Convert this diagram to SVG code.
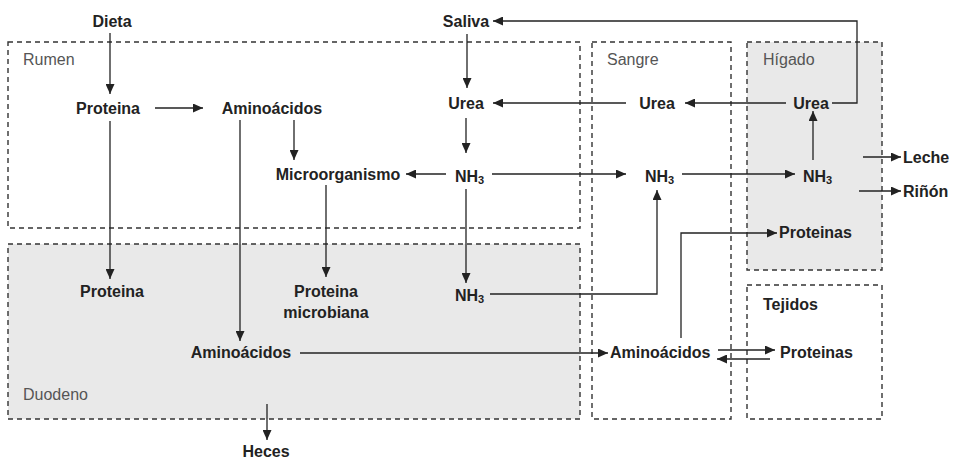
<svg xmlns="http://www.w3.org/2000/svg" width="957" height="464" viewBox="0 0 957 464">
<defs>
<marker id="ah" markerWidth="10" markerHeight="9" refX="10" refY="4.5" orient="auto" markerUnits="userSpaceOnUse">
<path d="M0,0 L10,4.5 L0,9 z" fill="#222"/>
</marker>
<style>
.box{fill:none;stroke:#333;stroke-width:1.4;stroke-dasharray:5 4}
.gray{fill:#e9e9e9}
.t{font-family:"Liberation Sans",Arial,sans-serif;font-size:16px;font-weight:bold;fill:#222}
.lbl{font-family:"Liberation Sans",Arial,sans-serif;font-size:16px;fill:#555}
.c{text-anchor:middle}
.sub{font-size:11px}
.ln{fill:none;stroke:#222;stroke-width:1.3}
.ar{fill:none;stroke:#222;stroke-width:1.3;marker-end:url(#ah)}
</style>
</defs>
<rect width="957" height="464" fill="#fff"/>
<g id="compartments">
<g id="rumen"><rect class="box" x="8" y="42" width="572" height="186"/><text class="lbl" x="23" y="65">Rumen</text></g>
<g id="duodeno"><rect class="box gray" x="8" y="244" width="572" height="175"/><text class="lbl" x="23" y="400">Duodeno</text></g>
<g id="sangre"><rect class="box" x="592" y="42" width="139" height="377"/><text class="lbl" x="607" y="65">Sangre</text></g>
<g id="higado"><rect class="box gray" x="747" y="42" width="135" height="228"/><text class="lbl" x="763" y="65">Hígado</text></g>
<g id="tejidos"><rect class="box" x="747" y="285" width="135" height="134"/><text class="t" x="763" y="310">Tejidos</text></g>
</g>
<g id="connectors">
<line class="ar" x1="110" y1="33" x2="110" y2="94"/>
<line class="ar" x1="155" y1="108" x2="203" y2="108"/>
<line class="ar" x1="294" y1="120" x2="294" y2="160"/>
<line class="ar" x1="110" y1="121" x2="110" y2="279"/>
<line class="ar" x1="240" y1="120" x2="240" y2="341"/>
<line class="ar" x1="326" y1="185" x2="326" y2="277"/>
<polyline class="ar" points="832,103 857,103 857,21 493,21"/>
<line class="ar" x1="467" y1="34" x2="467" y2="88"/>
<line class="ar" x1="626" y1="103" x2="493" y2="103"/>
<line class="ar" x1="786" y1="103" x2="685" y2="103"/>
<line class="ar" x1="466" y1="118" x2="466" y2="153"/>
<line class="ar" x1="446" y1="174" x2="406" y2="174"/>
<line class="ar" x1="492" y1="174" x2="626" y2="174"/>
<line class="ar" x1="466" y1="189" x2="466" y2="283"/>
<polyline class="ar" points="490,294 657,294 657,190"/>
<line class="ar" x1="682" y1="174" x2="795" y2="174"/>
<line class="ar" x1="813" y1="160" x2="813" y2="111"/>
<line class="ar" x1="863" y1="157" x2="901" y2="157"/>
<line class="ar" x1="859" y1="191" x2="901" y2="191"/>
<polyline class="ar" points="681,338 681,233 777,233"/>
<line class="ar" x1="300" y1="353" x2="608" y2="353"/>
<line class="ar" x1="718" y1="350" x2="775" y2="350"/>
<line class="ar" x1="770" y1="359" x2="717" y2="359"/>
<line class="ar" x1="267" y1="404" x2="267" y2="440"/>
</g>
<g id="dieta"><text class="t c" x="112" y="27">Dieta</text></g>
<g id="proteina-rumen"><text class="t c" x="108" y="114">Proteina</text></g>
<g id="aminoacidos-rumen"><text class="t c" x="272" y="114">Aminoácidos</text></g>
<g id="microorganismo"><text class="t c" x="338" y="180">Microorganismo</text></g>
<g id="saliva"><text class="t c" x="466" y="27">Saliva</text></g>
<g id="urea-rumen"><text class="t c" x="466" y="109">Urea</text></g>
<g id="nh3-rumen"><text class="t" x="455" y="182">NH<tspan class="sub" dy="2">3</tspan></text></g>
<g id="proteina-duodeno"><text class="t c" x="112" y="297">Proteina</text></g>
<g id="proteina-microbiana"><text class="t c" x="326" y="297">Proteina</text><text class="t c" x="326" y="318">microbiana</text></g>
<g id="nh3-duodeno"><text class="t" x="455" y="301">NH<tspan class="sub" dy="2">3</tspan></text></g>
<g id="aminoacidos-duodeno"><text class="t c" x="241" y="358">Aminoácidos</text></g>
<g id="heces"><text class="t c" x="266" y="457">Heces</text></g>
<g id="urea-sangre"><text class="t c" x="657" y="109">Urea</text></g>
<g id="nh3-sangre"><text class="t" x="645" y="182">NH<tspan class="sub" dy="2">3</tspan></text></g>
<g id="aminoacidos-sangre"><text class="t" x="610" y="358">Aminoácidos</text></g>
<g id="urea-higado"><text class="t c" x="811" y="109">Urea</text></g>
<g id="nh3-higado"><text class="t" x="803" y="182">NH<tspan class="sub" dy="2">3</tspan></text></g>
<g id="proteinas-higado"><text class="t" x="779" y="238">Proteinas</text></g>
<g id="leche"><text class="t" x="903" y="163">Leche</text></g>
<g id="rinon"><text class="t" x="903" y="197">Riñón</text></g>
<g id="proteinas-tejidos"><text class="t" x="780" y="358">Proteinas</text></g>
</svg>
